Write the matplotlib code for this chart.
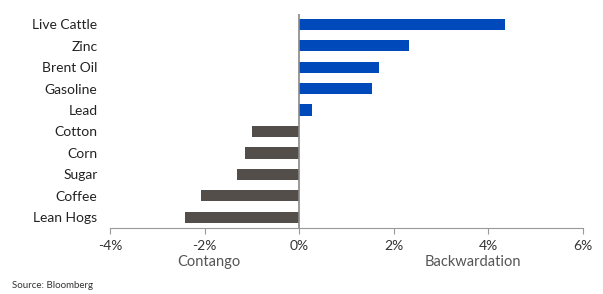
import matplotlib
matplotlib.use("Agg")
import matplotlib.pyplot as plt
import numpy as np

commodities = ["Live Cattle", "Zinc", "Brent Oil", "Gasoline", "Lead",
               "Cotton", "Corn", "Sugar", "Coffee", "Lean Hogs"]
roll_yield = [4.36, 2.32, 1.68, 1.53, 0.28, -0.99, -1.14, -1.31, -2.07, -2.41]
xticks = [-4, -2, 0, 2, 4, 6]

BLUE = "#0049BA"
GREY = "#544E4B"

plt.rcParams["font.family"] = ["Lato", "DejaVu Sans"]

fig = plt.figure(figsize=(6.03, 2.94), dpi=100)
ax = fig.add_axes([0.1824, 0.2245, 0.7844, 0.7295])

y = np.arange(len(commodities))
colors = [BLUE if v > 0 else GREY for v in roll_yield]
ax.barh(y, roll_yield, height=0.52, color=colors)
ax.set_ylim(len(commodities) - 0.5, -0.5)
ax.set_xlim(-4, 6)

ax.set_yticks(y)
ax.set_yticklabels(commodities, fontsize=10, color="#222222")
ax.tick_params(axis="y", length=0, pad=9)

ax.set_xticks(xticks)
ax.set_xticklabels([f"{t}%" for t in xticks], fontsize=10, color="#333333")
ax.tick_params(axis="x", length=4, color="#999999", pad=5)

for s in ["top", "right", "left"]:
    ax.spines[s].set_visible(False)
ax.spines["bottom"].set_color("#999999")
ax.axvline(0, color="#888888", linewidth=1.2)

ax.text(-1.9, -0.16, "Contango", transform=ax.get_xaxis_transform(),
        ha="center", va="center", fontsize=10.5, color="#555555")
ax.text(3.68, -0.16, "Backwardation", transform=ax.get_xaxis_transform(),
        ha="center", va="center", fontsize=10.5, color="#555555")
fig.text(0.02, 0.03, "Source: Bloomberg", fontsize=7, color="#333333",
         ha="left", va="center")

fig.savefig("out.png", dpi=100)
